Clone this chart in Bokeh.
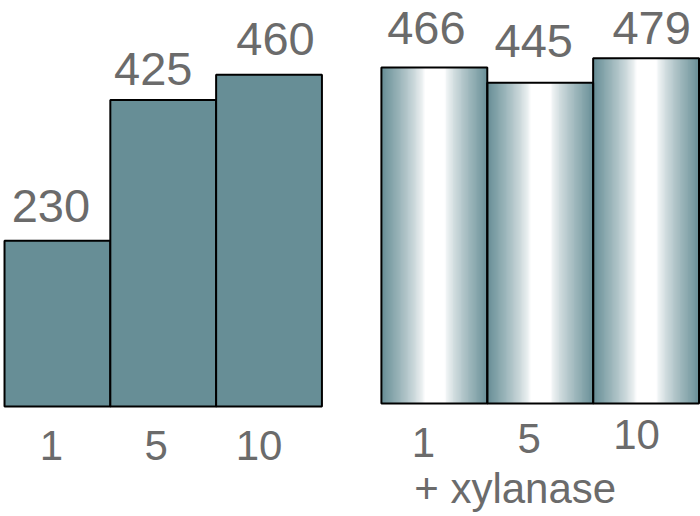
import numpy as np
from bokeh.plotting import figure
from bokeh.layouts import row
from bokeh.models import ColumnDataSource, Range1d
from bokeh.core.properties import value
from bokeh.embed import file_html
from bokeh.resources import INLINE

# Yield for each enzyme loading, without and with xylanase
doses = ["1", "5", "10"]
plain_values = [230, 425, 460]
xylanase_values = [466, 445, 479]
group_label = "+ xylanase"

TEAL = (103, 142, 150)
TEXT_COLOR = "#6b6b6b"
FONT = value("Liberation Sans")
PX_PER_UNIT = 0.721  # vertical screen pixels per yield unit
HEIGHT = 516

# Per-label nudges (screen pixels); texts are anchored on their middle
plain_val_dx = [-6.5, -10, 6.5]
plain_val_gap = [35, 31, 36]
plain_cat_dx = [-6, -7, -10]
plain_cat_drop = [39, 39, 39]
xyl_val_dx = [-8, -6.5, 5.5]
xyl_val_gap = [40, 42, 30]
xyl_cat_dx = [-11, -11, -9.5]
xyl_cat_drop = [39, 35, 31]


def make_panel(values, baseline_px, x_start, x_end):
    idx = list(range(len(values)))
    below = (HEIGHT - baseline_px) / PX_PER_UNIT
    p = figure(width=350, height=HEIGHT, output_backend="svg",
               toolbar_location=None, x_range=Range1d(x_start, x_end),
               y_range=Range1d(-below, baseline_px / PX_PER_UNIT),
               min_border=0, outline_line_color=None)
    p.axis.visible = False
    p.grid.visible = False
    p.background_fill_color = "white"
    p.border_fill_color = "white"
    return p, idx


def add_labels(p, idx, values, val_dx, val_gap, cat_dx, cat_drop):
    src = ColumnDataSource(dict(x=idx, top=values,
                                text=[str(v) for v in values],
                                dx=val_dx, dy=[-g for g in val_gap]))
    p.text(x="x", y="top", text="text", x_offset="dx", y_offset="dy",
           source=src, text_font=FONT, text_font_size="47px",
           text_color=TEXT_COLOR, text_align="center",
           text_baseline="alphabetic")
    csrc = ColumnDataSource(dict(x=idx, y=[0] * len(idx), text=doses,
                                 dx=cat_dx, dy=cat_drop))
    p.text(x="x", y="y", text="text", x_offset="dx", y_offset="dy",
           source=csrc, text_font=FONT, text_font_size="42px",
           text_color=TEXT_COLOR, text_align="center",
           text_baseline="alphabetic")


# Left panel: flat bars
left, lidx = make_panel(plain_values, 406, -0.538, 2.770)
left.vbar(x=lidx, top=plain_values, bottom=0, width=1.0,
          fill_color="#678e96", line_color="black", line_width=2)
add_labels(left, lidx, plain_values, plain_val_dx, plain_val_gap,
           plain_cat_dx, plain_cat_drop)

# Right panel: cylinder-shaded bars
right, ridx = make_panel(xylanase_values, 403, -0.792, 2.514)

n = 120
u = (np.arange(n) + 0.5) / n
d = np.abs(u - 0.5) * 2
f = np.clip((d - 0.18) / 0.82, 0, 1) ** 0.8
rgba = np.zeros((1, n), dtype=np.uint32)
view = rgba.view(dtype=np.uint8).reshape((1, n, 4))
for c in range(3):
    view[0, :, c] = np.round(255 * (1 - f) + TEAL[c] * f).astype(np.uint8)
view[0, :, 3] = 255

right.image_rgba(image=[rgba] * len(ridx), x=[i - 0.5 for i in ridx],
                 y=[0] * len(ridx), dw=[1.0] * len(ridx),
                 dh=xylanase_values)
right.vbar(x=ridx, top=xylanase_values, bottom=0, width=1.0,
           fill_alpha=0, line_color="black", line_width=2)
add_labels(right, ridx, xylanase_values, xyl_val_dx, xyl_val_gap,
           xyl_cat_dx, xyl_cat_drop)
right.text(x=[1], y=[0], text=[group_label], x_offset=-25, y_offset=85,
           text_font=FONT, text_font_size="42px", text_color=TEXT_COLOR,
           text_align="center", text_baseline="alphabetic")

layout = row(left, right, spacing=0)
open("out.html", "w").write(file_html(layout, INLINE))
